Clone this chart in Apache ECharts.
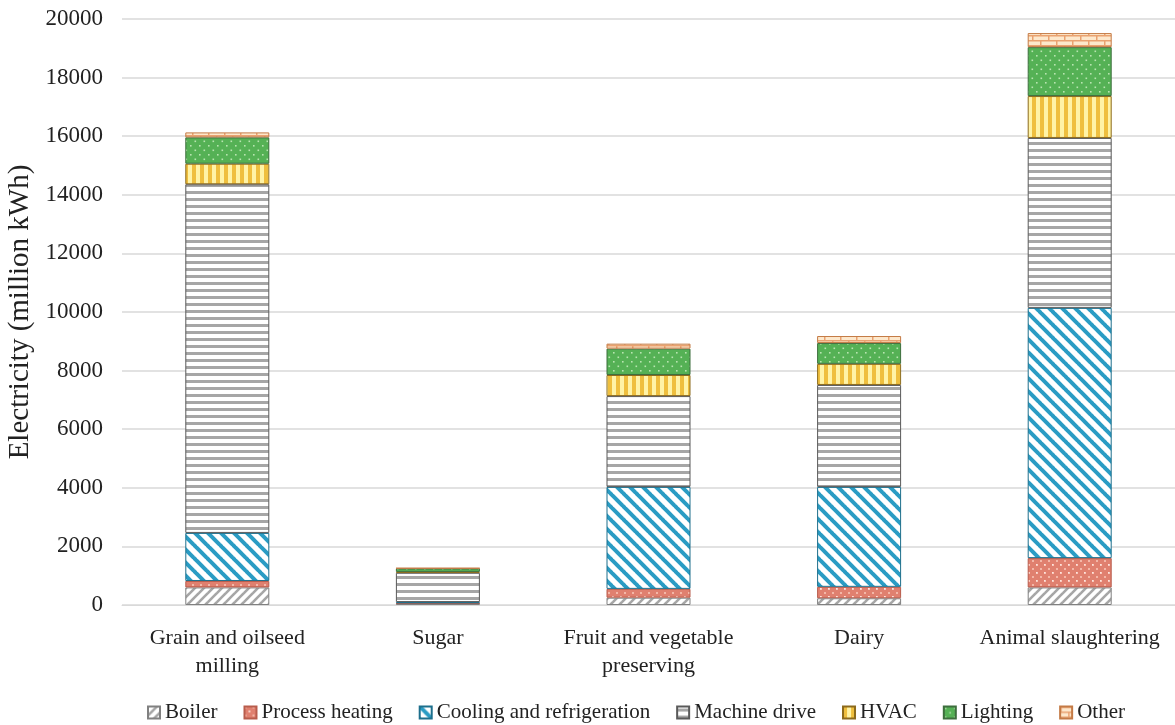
<!DOCTYPE html>
<html>
<head>
<meta charset="utf-8">
<script src="https://cdn.jsdelivr.net/npm/echarts@6/dist/echarts.min.js"></script>
<style>
  html, body { margin: 0; padding: 0; background: #fff; }
  #box { width: 1175px; height: 725px; }
</style>
</head>
<body>
<div id="box"></div>
<script>
var categories = ["Grain and oilseed\nmilling", "Sugar", "Fruit and vegetable\npreserving", "Dairy", "Animal slaughtering"];
var boiler = [600, 40, 250, 230, 600];
var processHeating = [220, 20, 300, 390, 1000];
var cooling = [1640, 40, 3480, 3410, 8540];
var machineDrive = [11900, 1000, 3100, 3480, 5800];
var hvac = [700, 30, 720, 720, 1430];
var lighting = [900, 120, 900, 710, 1670];
var other = [170, 10, 170, 240, 480];
var yTicks = [0, 2000, 4000, 6000, 8000, 10000, 12000, 14000, 16000, 18000, 20000];

// 生成填充图案
function makeTile(w, h, draw) {
  var c = document.createElement("canvas");
  c.width = w; c.height = h;
  var ctx = c.getContext("2d");
  draw(ctx, w, h);
  return { image: c, repeat: "repeat" };
}
function diag(ctx, s, dir) {
  for (var k = -1; k <= 1; k++) {
    ctx.beginPath();
    if (dir > 0) { // "/"
      ctx.moveTo(k * s - 1, s + 1);
      ctx.lineTo(k * s + s + 1, -1);
    } else {       // "\"
      ctx.moveTo(k * s - 1, -1);
      ctx.lineTo(k * s + s + 1, s + 1);
    }
    ctx.stroke();
  }
}
var patBoiler = makeTile(9, 9, function (ctx, w, h) {
  ctx.fillStyle = "#fff"; ctx.fillRect(0, 0, w, h);
  ctx.strokeStyle = "#a6a6a6"; ctx.lineWidth = 2.6; diag(ctx, 9, 1);
});
var patHeat = makeTile(8, 8, function (ctx, w, h) {
  ctx.fillStyle = "#e0806f"; ctx.fillRect(0, 0, w, h);
  ctx.fillStyle = "#f3b7a8"; ctx.fillRect(0, 0, 2, 2); ctx.fillRect(4, 4, 2, 2);
  ctx.fillStyle = "#fde6df"; ctx.fillRect(4, 4, 1.5, 1.5);
});
var patCool = makeTile(13, 13, function (ctx, w, h) {
  ctx.fillStyle = "#fff"; ctx.fillRect(0, 0, w, h);
  ctx.strokeStyle = "#2a9cc4"; ctx.lineWidth = 4; diag(ctx, 13, -1);
});
var patMachine = makeTile(8, 7, function (ctx, w, h) {
  ctx.fillStyle = "#fff"; ctx.fillRect(0, 0, w, h);
  ctx.fillStyle = "#a6a6a6"; ctx.fillRect(0, 2, w, 3);
});
var patHvac = makeTile(8, 8, function (ctx, w, h) {
  ctx.fillStyle = "#fff3a6"; ctx.fillRect(0, 0, w, h);
  ctx.fillStyle = "#efbf3e"; ctx.fillRect(0, 0, 4, h);
});
var patLight = makeTile(9, 9, function (ctx, w, h) {
  ctx.fillStyle = "#55b155"; ctx.fillRect(0, 0, w, h);
  ctx.fillStyle = "#b8e4b0"; ctx.fillRect(1, 1, 1.6, 1.6); ctx.fillRect(5.5, 5.5, 1.6, 1.6);
});
var patOther = makeTile(16, 10, function (ctx, w, h) {
  ctx.fillStyle = "#fde8cc"; ctx.fillRect(0, 0, w, h);
  ctx.fillStyle = "#eaa270";
  ctx.fillRect(0, 0, w, 1.5); ctx.fillRect(0, 5, w, 1.5);
  ctx.fillRect(0, 0, 1.5, 5); ctx.fillRect(8, 5, 1.5, 5);
});

var seriesDefs = [
  ["Boiler", boiler, patBoiler, "#808080"],
  ["Process heating", processHeating, patHeat, "#b85c4c"],
  ["Cooling and refrigeration", cooling, patCool, "#1d6f8c"],
  ["Machine drive", machineDrive, patMachine, "#5a5a5a"],
  ["HVAC", hvac, patHvac, "#8c6a1c"],
  ["Lighting", lighting, patLight, "#3d6e3d"],
  ["Other", other, patOther, "#c47a45"]
];

var chart = echarts.init(document.getElementById("box"));
var font = "'Liberation Serif', 'Times New Roman', serif";
var option = {
  backgroundColor: "#fff",
  animation: false,
  textStyle: { fontFamily: font },
  grid: { left: 122, right: 0, top: 19, bottom: 120, outerBoundsMode: "none" },
  legend: {
    bottom: -3,
    left: 142,
    icon: "rect",
    itemWidth: 12,
    itemHeight: 12,
    itemGap: 26,
    textStyle: { fontFamily: font, fontSize: 21, color: "#222" },
    data: seriesDefs.map(function (d) { return d[0]; })
  },
  xAxis: {
    type: "category",
    data: categories,
    axisLine: { lineStyle: { color: "#d9d9d9", width: 1 } },
    axisTick: { show: false },
    axisLabel: { interval: 0, fontFamily: font, fontSize: 22, color: "#222", lineHeight: 28, margin: 19 }
  },
  yAxis: {
    type: "value",
    min: yTicks[0],
    max: yTicks[yTicks.length - 1],
    interval: 2000,
    name: "Electricity (million kWh)",
    nameLocation: "middle",
    nameGap: 86,
    nameTextStyle: { fontFamily: font, fontSize: 29, color: "#222" },
    axisLine: { show: false },
    axisTick: { show: false },
    axisLabel: { fontFamily: font, fontSize: 23, color: "#222", margin: 19, formatter: function (v) { return String(v); } },
    splitLine: { lineStyle: { color: "#d9d9d9", width: 1.5 } }
  },
  series: seriesDefs.map(function (d) {
    return {
      name: d[0],
      type: "bar",
      stack: "total",
      data: d[1],
      barWidth: 84,
      itemStyle: { color: d[2], borderColor: d[3], borderWidth: 1 }
    };
  })
};
chart.setOption(option);
</script>
</body>
</html>
